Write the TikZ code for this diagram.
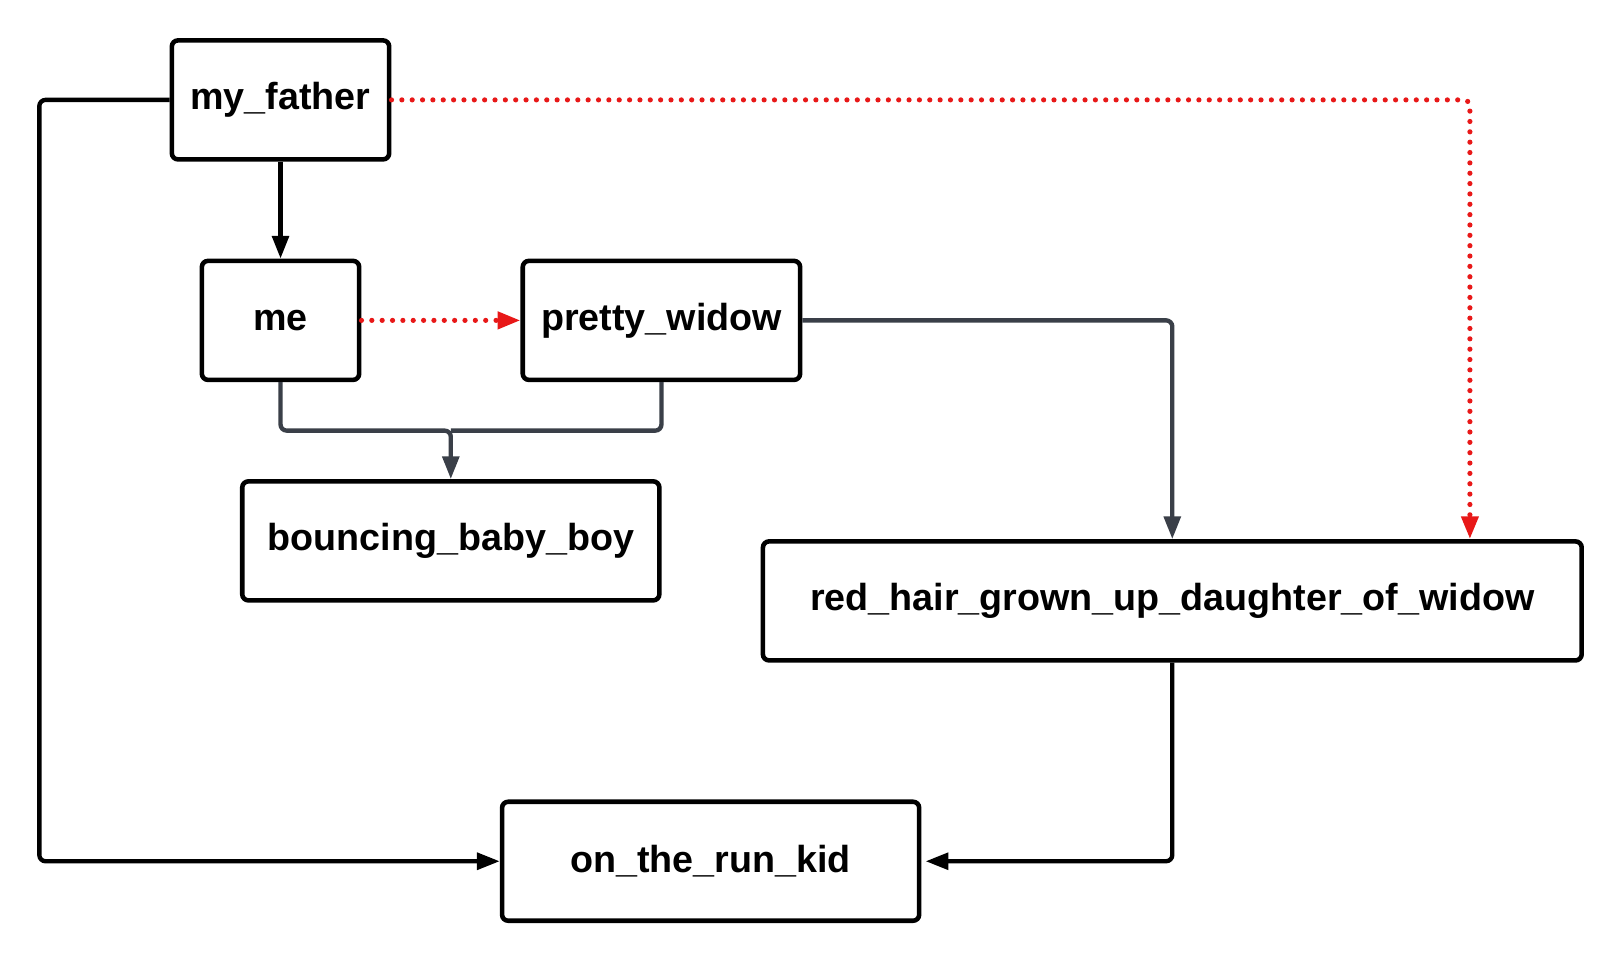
\documentclass[tikz,border=0pt]{standalone}
\usepackage{fontspec}
\setmainfont{Liberation Sans}
\usetikzlibrary{arrows.meta}
\definecolor{edgered}{RGB}{232,24,24}
\definecolor{edgegray}{RGB}{58,63,72}
\begin{document}
\begin{tikzpicture}[x=0.5pt,y=-0.5pt,
  box/.style={draw=black, line width=2.2pt, rounded corners=3pt, fill=white,
    minimum height=57.5pt, inner sep=0pt,
    font=\fontsize{18.2pt}{22pt}\selectfont\bfseries},
  conn/.style={line width=2.1pt, rounded corners=3pt,
    -{Triangle[length=11pt,width=8pt]}},
  blackconn/.style={conn, draw=black},
  grayconn/.style={conn, draw=edgegray},
  grayline/.style={line width=2.1pt, rounded corners=3pt, draw=edgegray},
  redconn/.style={conn, draw=edgered, line width=2.5pt, dash pattern=on 0pt off 5pt, line cap=round,
    -{Triangle[length=11pt,width=8pt,fill=edgered,line cap=butt]}}
]
\useasboundingbox (0,0) rectangle (1565,927.4);
\fill[white] (0,0) rectangle (1565,927.4);

\node[box, minimum width=105pt] (father) at (271,96.5) {my\_father};
\node[box, minimum width=76pt] (me) at (271,309.5) {me};
\node[box, minimum width=134pt] (widow) at (639,309.5) {pretty\_widow};
\node[box, minimum width=201.5pt] (baby) at (435.5,522.5) {bouncing\_baby\_boy};
\node[box, minimum width=395.5pt] (daughter) at (1132.5,580.5) {red\_hair\_grown\_up\_daughter\_of\_widow};
\node[box, minimum width=201.5pt] (kid) at (686.5,832) {on\_the\_run\_kid};

\coordinate (leftx) at (38,0);
\coordinate (redx) at (1420,0);
\coordinate (join) at (435.5,416);

\draw[blackconn] (father.south) -- (me.north);
\draw[blackconn] (father.west) -| (leftx |- kid.west) -- (kid.west);
\draw[redconn] (father.east) -| (redx |- daughter.north);
\draw[redconn] (me.east) -- (widow.west);
\draw[grayline] (widow.south) |- (join);
\draw[grayconn] (me.south) |- (join) -- (baby.north);
\draw[grayconn] (widow.east) -| (daughter.north);
\draw[blackconn, shorten >=2pt] (daughter.south) |- (kid.east);
\end{tikzpicture}
\end{document}
